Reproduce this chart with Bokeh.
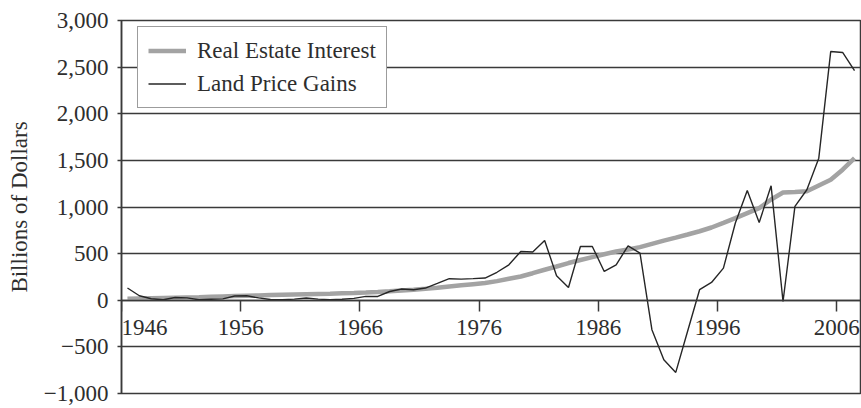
from bokeh.plotting import figure
from bokeh.models import (ColumnDataSource, FixedTicker, NumeralTickFormatter, Range1d, Legend,
                          LegendItem, Label)
from bokeh.transform import dodge
from bokeh.embed import file_html
from bokeh.resources import INLINE

years = list(range(1946, 2008))

real_estate_interest = [
    15, 18, 21, 24, 27, 30, 33, 37, 41, 45,
    49, 52, 55, 58, 61, 64, 67, 70, 74, 78,
    83, 89, 96, 104, 113, 123, 135, 148, 160, 172,
    184, 205, 230, 255, 290, 327, 362, 399, 432, 463,
    493, 523, 545, 570, 605, 640, 672, 705, 740, 780,
    830, 881, 935, 988, 1080, 1155, 1160, 1168, 1230, 1292,
    1400, 1524,
]

land_price_gains = [
    131, 48, 16, 5, 30, 25, 5, 10, 15, 45,
    48, 25, 8, 5, 12, 24, 12, 5, 10, 20,
    41, 41, 94, 120, 113, 131, 180, 231, 227, 232,
    238, 300, 380, 523, 517, 641, 263, 137, 577, 577,
    309, 380, 584, 506, -316, -638, -774, -330, 113, 191,
    345, 828, 1177, 834, 1227, -13, 1006, 1185, 1524, 2667,
    2657, 2463,
]

x_ticks = [1946, 1956, 1966, 1976, 1986, 1996, 2006]
first_tick_label = "1946"
y_ticks = [-1000, -500, 0, 500, 1000, 1500, 2000, 2500, 3000]
y_label_overrides = {-1000: "\u22121,000", -500: "\u2212500"}

source = ColumnDataSource(dict(year=years, rei=real_estate_interest, lpg=land_price_gains))

FONT = "Liberation Serif"
FS = "23px"
TXT = "#2e2e2e"
LINE = "#3a3a3a"

p = figure(width=861, height=408, output_backend="svg", toolbar_location=None,
           x_range=Range1d(1946, 2008), y_range=Range1d(-1000, 3000),
           min_border_left=121, min_border_right=1, min_border_top=20, min_border_bottom=15)

p.background_fill_color = "white"
p.border_fill_color = "white"
p.outline_line_color = LINE
p.outline_line_width = 1.5

r1 = p.line(x=dodge("year", 0.5), y="rei", source=source, line_color="#a3a3a3", line_width=4.5)
r2 = p.line(x=dodge("year", 0.5), y="lpg", source=source, line_color="#262626", line_width=1.4)

# x axis crossing at zero
xa = p.xaxis[0]
xa.fixed_location = 0
xa.ticker = FixedTicker(ticks=x_ticks)
xa.major_label_overrides = {x_ticks[0]: ""}
xa.minor_tick_line_color = None
xa.major_tick_in = 0
xa.major_tick_out = 11
xa.major_tick_line_color = LINE
xa.major_tick_line_width = 1.5
xa.axis_line_color = LINE
xa.axis_line_width = 1.5
xa.major_label_text_font = FONT
xa.major_label_text_font_size = FS
xa.major_label_text_color = TXT
xa.major_label_standoff = 9

# first tick label sits at the frame edge: left aligned so that it stays fully visible
p.add_layout(Label(x=x_ticks[0], y=0, x_units="data", y_units="data", text=first_tick_label,
                   x_offset=0, y_offset=-20, text_align="left", text_baseline="top",
                   text_font=FONT, text_font_size=FS, text_color=TXT))

ya = p.yaxis[0]
ya.ticker = FixedTicker(ticks=y_ticks)
ya.formatter = NumeralTickFormatter(format="0,0")
ya.major_label_overrides = y_label_overrides
ya.minor_tick_line_color = None
ya.major_tick_in = 0
ya.major_tick_out = 4
ya.major_tick_line_color = LINE
ya.major_tick_line_width = 1.5
ya.axis_line_color = LINE
ya.axis_line_width = 1.5
ya.major_label_text_font = FONT
ya.major_label_text_font_size = FS
ya.major_label_text_color = TXT
ya.major_label_standoff = 9
ya.axis_label = "Billions of Dollars"
ya.axis_label_text_font = FONT
ya.axis_label_text_font_size = FS
ya.axis_label_text_font_style = "normal"
ya.axis_label_text_color = TXT
ya.axis_label_standoff = 9

p.xgrid.visible = False
p.ygrid.ticker = FixedTicker(ticks=y_ticks)
p.ygrid.grid_line_color = LINE
p.ygrid.grid_line_width = 1.5

legend = Legend(items=[LegendItem(label="Real Estate Interest", renderers=[r1]),
                       LegendItem(label="Land Price Gains", renderers=[r2])],
                location=(16, 285))
legend.label_text_font = FONT
legend.label_text_font_size = FS
legend.label_text_color = TXT
legend.border_line_color = LINE
legend.border_line_width = 1.5
legend.background_fill_color = "white"
legend.background_fill_alpha = 1.0
legend.padding = 10
legend.spacing = 6
legend.glyph_width = 38
legend.glyph_height = 27
legend.label_height = 27
legend.label_standoff = 11
legend.margin = 0
p.add_layout(legend, "center")

open("out.html", "w").write(file_html(p, INLINE))
